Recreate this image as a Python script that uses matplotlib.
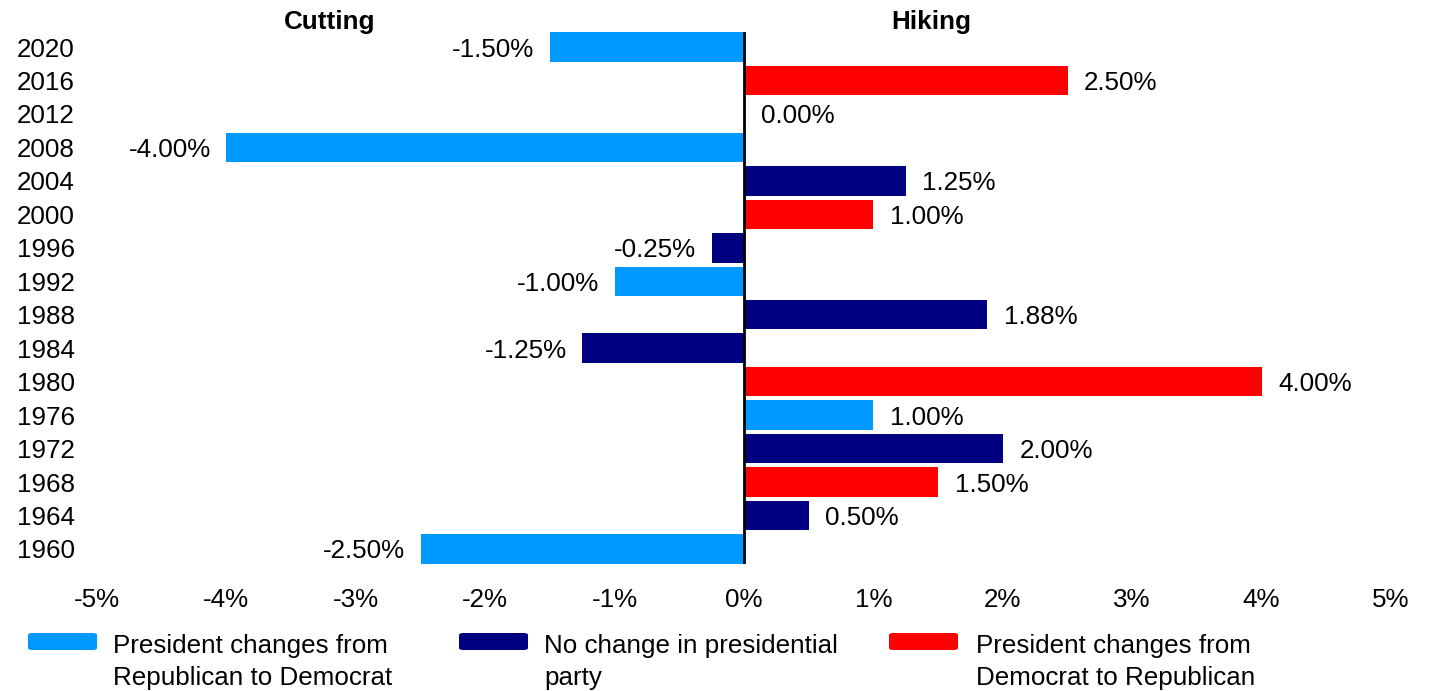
import matplotlib
matplotlib.use("Agg")
import matplotlib.pyplot as plt
from matplotlib.patches import FancyBboxPatch

plt.rcParams['font.family'] = ['Liberation Sans', 'DejaVu Sans']

years = ["2020", "2016", "2012", "2008", "2004", "2000", "1996", "1992",
         "1988", "1984", "1980", "1976", "1972", "1968", "1964", "1960"]
changes = [-1.50, 2.50, 0.00, -4.00, 1.25, 1.00, -0.25, -1.00,
           1.88, -1.25, 4.00, 1.00, 2.00, 1.50, 0.50, -2.50]
# R->D = 0, no change = 1, D->R = 2
party_shift = [0, 2, 1, 0, 1, 2, 1, 0, 1, 1, 2, 0, 1, 2, 1, 0]
legend_labels = [("President changes from", "Republican to Democrat"),
                 ("No change in presidential", "party"),
                 ("President changes from", "Democrat to Republican")]
colors = ["#0099FF", "#000080", "#FF0000"]
xticks = [-5, -4, -3, -2, -1, 0, 1, 2, 3, 4, 5]

FS = 18.7
W, H = 1431, 691
fig = plt.figure(figsize=(14.31, 6.91), dpi=100)
ax = fig.add_axes([97/W, 1-564/H, (1391-97)/W, (564-32)/H])

n = len(years)
ypos = list(range(n - 1, -1, -1))
ax.barh(ypos, changes, height=0.88, color=[colors[p] for p in party_shift])

for y, v in zip(ypos, changes):
    if v >= 0:
        ax.annotate(f"{v:.2f}%", (v, y), xytext=(12, 0), textcoords="offset points",
                    ha="left", va="center_baseline", fontsize=FS)
    else:
        ax.annotate(f"{v:.2f}%", (v, y), xytext=(-11, 0), textcoords="offset points",
                    ha="right", va="center_baseline", fontsize=FS)

ax.axvline(0, color="black", lw=2)
ax.set_xlim(-5, 5)
ax.set_ylim(-0.45, n - 0.55)
ax.set_yticks(ypos)
ax.set_yticklabels(years, fontsize=FS)
ax.set_xticks(xticks)
ax.set_xticklabels([f"{t}%" for t in xticks], fontsize=FS)
ax.tick_params(axis="both", length=0)
ax.tick_params(axis="y", pad=16)
ax.tick_params(axis="x", pad=17)
for s in ax.spines.values():
    s.set_visible(False)

trans = ax.get_xaxis_transform()
ax.text(-3.2, 1.019, "Cutting", transform=trans, ha="center", va="center",
        fontsize=FS, fontweight="bold")
ax.text(1.45, 1.019, "Hiking", transform=trans, ha="center", va="center",
        fontsize=FS, fontweight="bold")

# legend
patch_x = [28, 459, 889]
text_x = [113, 544, 976]
for px, tx, c, lab in zip(patch_x, text_x, colors, legend_labels):
    p = FancyBboxPatch((px / W, 1 - 650 / H), 69 / W, 17 / H,
                       boxstyle="round,pad=0,rounding_size=0.003",
                       transform=fig.transFigure, facecolor=c, edgecolor="none")
    fig.patches.append(p)
    fig.text(tx / W, 1 - 643 / H, lab[0], ha="left", va="center_baseline", fontsize=FS)
    fig.text(tx / W, 1 - 676 / H, lab[1], ha="left", va="center_baseline", fontsize=FS)

fig.savefig("out.png", dpi=100)
